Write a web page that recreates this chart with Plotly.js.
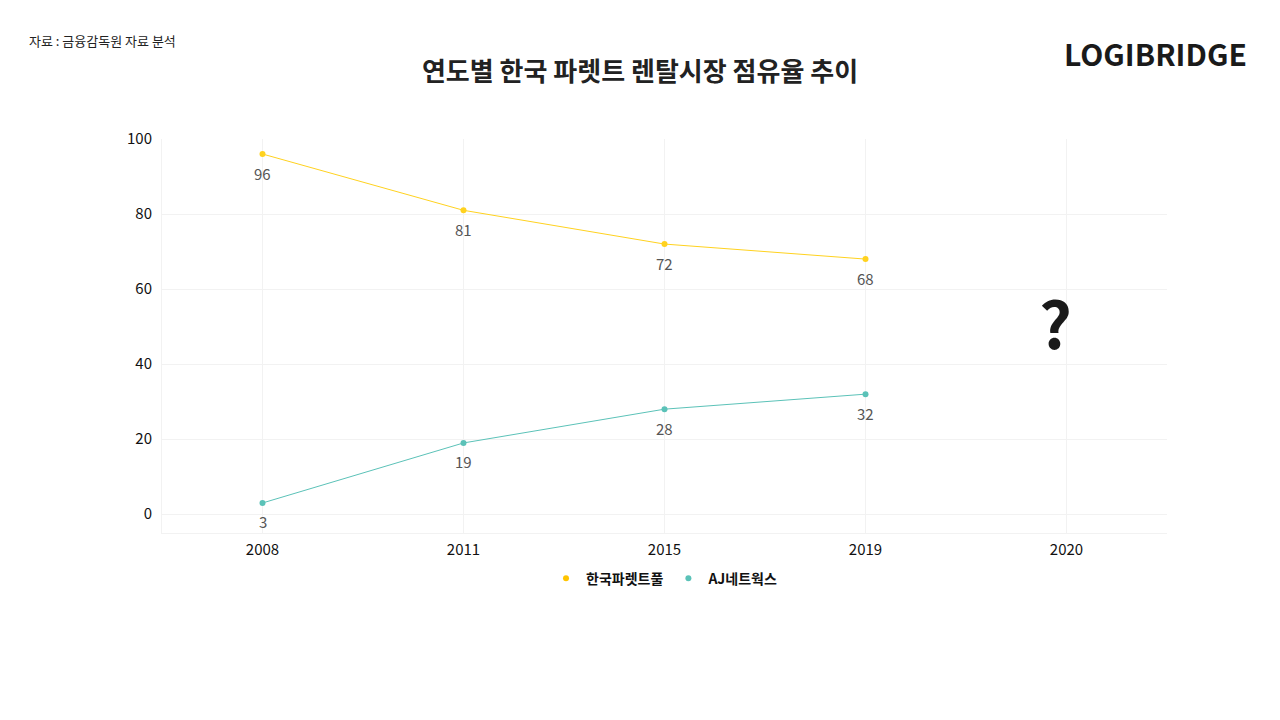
<!DOCTYPE html>
<html><head><meta charset="utf-8">
<script src="https://cdn.plot.ly/plotly-3.0.1.min.js"></script>
<style>body{margin:0;background:#fff}</style></head>
<body><div id="c" style="width:1280px;height:720px"></div>
<script>
const years = ['2008','2011','2015','2019','2020'];
const kpp = [96,81,72,68,null];
const aj = [3,19,28,32,null];
const F = '"Noto Sans CJK KR", "Noto Sans", sans-serif';
const mk = (name, y, color) => ({
  type:'scatter', mode:'lines+markers', name, x:years, y, showlegend:false,
  line:{color, width:1}, marker:{color, size:6}
});
const lg = (name,color) => ({type:'scatter',mode:'markers',name,x:[years[0]],y:[null],marker:{color,size:6}});
const labels = [];
[kpp,aj].forEach(s=>s.forEach((v,i)=>{ if(v!=null) labels.push({xref:'x',yref:'y',x:i,y:v,text:String(v),showarrow:false,yshift:-19,
  font:{family:F,size:15,color:'#555'}}); }));
Plotly.newPlot('c',[mk('한국파렛트풀',kpp,'#FFD21F'),mk('AJ네트웍스',aj,'#5BC2B8'),lg('한국파렛트풀','#FFC400'),lg('AJ네트웍스','#5BC2B8')],{
  width:1280,height:720,margin:{l:162,r:113,t:139,b:187},
  paper_bgcolor:'#fff',plot_bgcolor:'#fff',
  title:{text:'<b>연도별 한국 파렛트 렌탈시장 점유율 추이</b>',x:0.5,xanchor:'center',y:0.9,yanchor:'middle',yref:'container',font:{family:F,size:26,color:'#222'}},
  xaxis:{type:'category',range:[-0.5,4.5],showgrid:true,gridcolor:'#f2f2f2',zeroline:false,showline:true,linecolor:'#f2f2f2',
    tickfont:{family:F,size:15,color:'#111'},ticks:'outside',ticklen:3,tickcolor:'#fff'},
  yaxis:{range:[-5,100],tickvals:[0,20,40,60,80,100],showgrid:true,gridcolor:'#f2f2f2',zeroline:false,showline:true,linecolor:'#f2f2f2',
    tickfont:{family:F,size:15,color:'#111'},ticklen:6,tickcolor:'#fff'},
  legend:{orientation:'h',x:0.5,xanchor:'center',y:-0.075,yanchor:'top',font:{family:F,size:14,color:'#111',weight:'bold'},itemwidth:30},
  annotations:[
    {text:'자료 : 금융감독원 자료 분석',xref:'paper',yref:'paper',x:-0.134,y:1.249,xanchor:'left',yanchor:'middle',showarrow:false,
     font:{family:F,size:13,color:'#222'}},
    {text:'<b>LOGIBRIDGE</b>',xref:'paper',yref:'paper',x:1.082,y:1.218,xanchor:'right',yanchor:'middle',showarrow:false,
     font:{family:F,size:30,color:'#1a1a1a'}},
    {text:'<b>?</b>',xref:'paper',yref:'y',x:0.907,y:51.5,showarrow:false,font:{family:F,size:64,color:'#1a1a1a'}}
  ].concat(labels)
},{displayModeBar:false});
</script></body></html>
